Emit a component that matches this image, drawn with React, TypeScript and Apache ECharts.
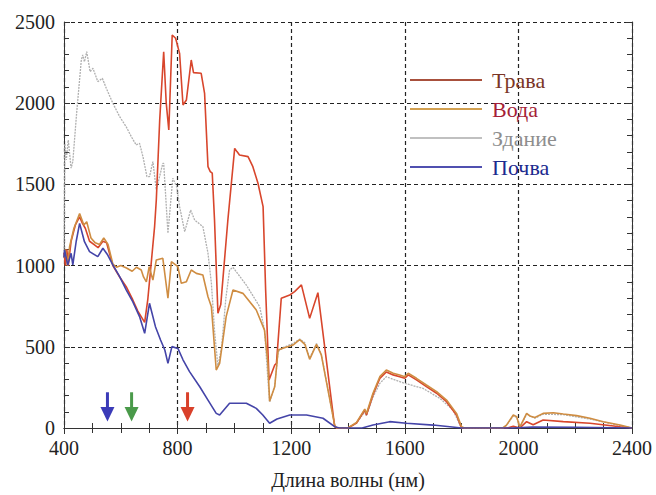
import React, { useEffect, useRef } from "react";
import * as echarts from "echarts";

const seriesNames = ["Трава", "Вода", "Здание", "Почва"];
const xTicks = [400, 800, 1200, 1600, 2000, 2400];
const yTicks = [0, 500, 1000, 1500, 2000, 2500];

const grass: [number, number][] = [
  [400, 1080], [405, 1000], [410, 1100], [415, 1000], [425, 1150], [440, 1250], [455, 1300],
  [465, 1260], [475, 1230], [490, 1150], [505, 1130], [520, 1110], [537, 1150], [550, 1140],
  [572, 1000], [596, 930], [619, 870], [642, 790], [660, 720], [684, 650], [695, 790],
  [707, 1014], [719, 1240], [725, 1404], [737, 1897], [751, 2317], [760, 2000], [769, 1835],
  [781, 2420], [793, 2400], [807, 2307], [819, 1989], [831, 2020], [848, 2266], [856, 2188],
  [883, 2184], [895, 2061], [907, 1609], [915, 1579], [922, 1569], [930, 1281], [942, 706],
  [952, 760], [977, 1281], [1001, 1722], [1009, 1702], [1018, 1681], [1048, 1671], [1065, 1609],
  [1083, 1507], [1101, 1363], [1110, 850], [1122, 296], [1142, 388], [1148, 398], [1165, 799],
  [1195, 819], [1212, 840], [1236, 881], [1265, 675], [1294, 833], [1353, 8], [1360, 0],
  [1400, 0], [1430, 30], [1459, 111], [1465, 80], [1488, 205], [1512, 305], [1535, 345],
  [1559, 327], [1582, 316], [1600, 306], [1612, 327], [1641, 296], [1676, 255], [1712, 214],
  [1747, 162], [1782, 80], [1800, 0], [1960, 0], [1982, 10], [2005, 0], [2029, 39], [2052, 20],
  [2087, 49], [2158, 39], [2252, 29], [2358, 8], [2400, 0],
];

const water: [number, number][] = [
  [400, 1050], [405, 1100], [412, 1000], [420, 1120], [435, 1230], [455, 1320], [470, 1250],
  [480, 1270], [495, 1170], [510, 1140], [525, 1130], [540, 1170], [555, 1130], [572, 1010],
  [585, 990], [600, 1000], [620, 985], [640, 965], [655, 990], [672, 973], [680, 930],
  [690, 900], [700, 993], [713, 911], [725, 1035], [748, 1045], [766, 799], [778, 1024],
  [801, 993], [813, 891], [831, 901], [848, 973], [866, 952], [889, 942], [907, 808],
  [919, 747], [936, 357], [948, 398], [971, 686], [995, 850], [1030, 829], [1077, 727],
  [1106, 603], [1118, 398], [1124, 165], [1142, 254], [1154, 480], [1171, 491], [1206, 511],
  [1230, 544], [1248, 515], [1265, 423], [1289, 515], [1306, 450], [1353, 18], [1360, 0],
  [1400, 0], [1430, 35], [1459, 116], [1465, 90], [1488, 214], [1512, 316], [1535, 357],
  [1559, 337], [1582, 326], [1600, 316], [1612, 337], [1641, 306], [1676, 265], [1712, 224],
  [1747, 172], [1782, 90], [1800, 8], [1810, 0], [1945, 0], [1958, 18], [1982, 80], [1994, 70],
  [2005, 5], [2029, 90], [2040, 74], [2058, 65], [2087, 90], [2123, 94], [2158, 86], [2205, 76],
  [2252, 60], [2299, 39], [2358, 18], [2400, 0],
];

const building: [number, number][] = [
  [400, 1050], [403, 1750], [408, 1650], [415, 1773], [425, 1600], [431, 1640], [445, 1950],
  [461, 2266], [466, 2297], [472, 2255], [480, 2317], [492, 2194], [502, 2215], [519, 2133],
  [535, 2153], [549, 2092], [572, 2000], [596, 1917], [619, 1855], [637, 1794], [654, 1743],
  [666, 1753], [678, 1671], [692, 1548], [701, 1548], [713, 1640], [725, 1466], [748, 1630],
  [751, 1630], [766, 1199], [783, 1538], [797, 1486], [807, 1363], [825, 1209], [846, 1342],
  [860, 1281], [889, 1240], [907, 1076], [919, 891], [930, 600], [942, 378], [955, 500],
  [970, 800], [983, 973], [995, 989], [1042, 880], [1089, 747], [1106, 603], [1118, 296],
  [1124, 160], [1142, 260], [1154, 470], [1171, 495], [1206, 520], [1230, 548], [1248, 525],
  [1265, 430], [1289, 520], [1306, 455], [1353, 18], [1360, 0], [1400, 0], [1430, 30],
  [1459, 100], [1465, 75], [1488, 190], [1512, 275], [1535, 316], [1559, 300], [1600, 275],
  [1664, 244], [1723, 183], [1770, 111], [1794, 18], [1800, 0], [1945, 0], [1958, 15],
  [1982, 75], [1994, 65], [2005, 3], [2029, 85], [2058, 60], [2087, 85], [2158, 82],
  [2252, 55], [2358, 15], [2400, 0],
];

const soil: [number, number][] = [
  [400, 1050], [402, 1096], [413, 1004], [425, 1076], [431, 1004], [443, 1150], [455, 1260],
  [472, 1147], [490, 1086], [519, 1055], [537, 1107], [554, 1065], [572, 1004], [596, 932],
  [619, 850], [642, 778], [666, 686], [684, 583], [701, 768], [722, 624], [740, 542],
  [755, 480], [766, 398], [780, 501], [801, 490], [819, 420], [842, 347], [878, 254],
  [907, 172], [936, 90], [948, 80], [983, 152], [1042, 152], [1077, 121], [1100, 80],
  [1124, 29], [1150, 55], [1195, 80], [1254, 80], [1312, 60], [1353, 8], [1370, 0],
  [1450, 0], [1488, 18], [1547, 39], [1606, 29], [1700, 18], [1800, 0], [1980, 0],
  [2050, 6], [2200, 5], [2400, 0],
];

// arrows: wavelength, top value, head-start value, tip value
const arrowX = [553, 638, 835];
const arrowTop = [220, 220, 220];
const arrowHead = [130, 130, 130];
const arrowTip = [40, 40, 40];

const FONT = "Liberation Serif";

export default function App() {
  const ref = useRef<HTMLDivElement>(null);
  useEffect(() => {
    if (!ref.current) return;
    const chart = echarts.init(ref.current, undefined, { renderer: "svg" });
    const lineColors = ["#d8462c", "#cf8d42", "#b0b0b0", "#4444a8"];
    const legendLineColors = ["#a8503c", "#d2a050", "#c0c0c0", "#5050b0"];
    const textColors = ["#7a3526", "#a51f38", "#8e8e8e", "#1b2a8e"];
    const datasets = [grass, water, building, soil];
    const zs = [8, 9, 7, 10];
    const arrowColors = ["#3b3bb8", "#4a9a4a", "#d9402a"];

    const tick = { show: true, inside: true, length: 6, lineStyle: { color: "#333", width: 1 } };
    const minorTick = { show: true, length: 5, lineStyle: { color: "#333", width: 1 } };
    const splitDash = { show: true, lineStyle: { color: "#222", width: 1.2, type: [4, 3] as any } };
    const plain = (v: number) => String(v);

    chart.setOption({
      animation: false,
      backgroundColor: "#fff",
      textStyle: { fontFamily: FONT },
      grid: { left: 64, right: 24, top: 22, bottom: 67 },
      legend: {
        orient: "vertical",
        left: 405,
        top: 64,
        itemWidth: 72,
        itemHeight: 2,
        itemGap: 7,
        icon: "rect",
        textStyle: { fontFamily: FONT, fontSize: 22, padding: [0, 0, 0, 5] },
        data: seriesNames.map((n, i) => ({
          name: n,
          itemStyle: { color: legendLineColors[i] },
          textStyle: { color: textColors[i], fontFamily: FONT, fontSize: 22 },
        })),
      },
      xAxis: [
        {
          type: "value",
          min: 400,
          max: 2400,
          interval: 400,
          position: "bottom",
          name: "Длина волны (нм)",
          nameLocation: "middle",
          nameGap: 42,
          nameTextStyle: { fontFamily: FONT, fontSize: 20, color: "#222" },
          axisLine: { show: true, lineStyle: { color: "#333", width: 1 } },
          axisTick: tick,
          minorTick: { ...minorTick, splitNumber: 4 },
          splitLine: splitDash,
          axisLabel: {
            fontFamily: FONT,
            fontSize: 20,
            color: "#222",
            margin: 10,
            customValues: xTicks,
            formatter: plain,
          },
        },
        {
          type: "value",
          min: 400,
          max: 2400,
          interval: 400,
          position: "top",
          axisLine: { show: true, lineStyle: { color: "#333", width: 1 } },
          axisTick: tick,
          minorTick: { ...minorTick, splitNumber: 4 },
          splitLine: { show: false },
          axisLabel: { show: false },
        },
      ],
      yAxis: [
        {
          type: "value",
          min: 0,
          max: 2500,
          interval: 500,
          position: "left",
          axisLine: { show: true, lineStyle: { color: "#333", width: 1 } },
          axisTick: tick,
          minorTick: { ...minorTick, splitNumber: 5 },
          splitLine: splitDash,
          axisLabel: {
            fontFamily: FONT,
            fontSize: 20,
            color: "#222",
            margin: 9,
            customValues: yTicks,
            formatter: plain,
          },
        },
        {
          type: "value",
          min: 0,
          max: 2500,
          interval: 500,
          position: "right",
          axisLine: { show: true, lineStyle: { color: "#333", width: 1 } },
          axisTick: tick,
          minorTick: { ...minorTick, splitNumber: 5 },
          splitLine: { show: false },
          axisLabel: { show: false },
        },
      ],
      series: [
        ...datasets.map((d, i) => ({
          name: seriesNames[i],
          type: "line",
          data: d,
          xAxisIndex: 0,
          yAxisIndex: 0,
          symbol: "none",
          smooth: false,
          z: zs[i],
          lineStyle: {
            color: lineColors[i],
            width: i === 2 ? 1.3 : 1.6,
            type: i === 2 ? ([2, 1] as any) : "solid",
          },
          itemStyle: { color: lineColors[i] },
        })),
        {
          name: "arrows",
          type: "custom",
          xAxisIndex: 0,
          yAxisIndex: 0,
          z: 20,
          data: arrowX.map((x, i) => ({
            value: [x, arrowTop[i], arrowHead[i], arrowTip[i]],
            itemStyle: { color: arrowColors[i] },
          })),
          renderItem: (params: any, api: any) => {
            const x = api.value(0);
            const top = api.coord([x, api.value(1)]);
            const head = api.coord([x, api.value(2)]);
            const tip = api.coord([x, api.value(3)]);
            const color = api.visual("color");
            return {
              type: "group",
              children: [
                {
                  type: "rect",
                  shape: { x: top[0] - 1.5, y: top[1], width: 3, height: head[1] - top[1] + 1 },
                  style: { fill: color },
                },
                {
                  type: "polygon",
                  shape: {
                    points: [
                      [head[0] - 7, head[1]],
                      [head[0] + 7, head[1]],
                      [tip[0], tip[1]],
                    ],
                  },
                  style: { fill: color },
                },
              ],
            };
          },
        },
      ],
    });
    return () => chart.dispose();
  }, []);
  return (
    <div
      ref={ref}
      style={{ position: "fixed", left: 0, top: 0, width: 656, height: 495, background: "#fff" }}
    />
  );
}
